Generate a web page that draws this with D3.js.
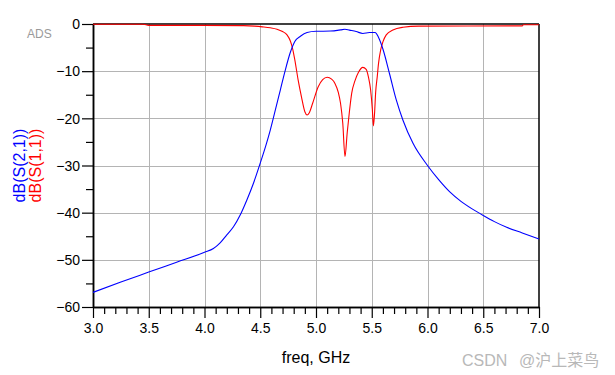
<!DOCTYPE html>
<html>
<head>
<meta charset="utf-8">
<script src="https://cdn.jsdelivr.net/npm/d3@7"></script>
<style>
  html, body { margin: 0; padding: 0; background: #fff; }
  svg { display: block; font-family: "Liberation Sans", Arial, sans-serif; }
</style>
</head>
<body>
<svg id="chart" width="615" height="375"></svg>
<script>
// ---- data ----
const freqS21 = [3.0, 3.25, 3.5, 3.75, 4.0, 4.08, 4.14, 4.2, 4.26, 4.32, 4.38, 4.44, 4.5, 4.55, 4.59, 4.64, 4.68, 4.72, 4.77, 4.81, 4.86, 4.92, 5.0, 5.13, 5.22, 5.26, 5.3, 5.36, 5.42, 5.48, 5.53, 5.56, 5.6, 5.66, 5.72, 5.78, 5.87, 6.0, 6.1, 6.2, 6.3, 6.4, 6.5, 6.6, 6.71, 6.85, 7.0];
const s21 = [-56.9, -54.7, -52.6, -50.5, -48.4, -47.6, -46.4, -44.7, -43.0, -40.5, -37.3, -33.7, -29.5, -25.8, -22.5, -17.8, -14.0, -10.2, -6.0, -3.7, -2.6, -1.8, -1.55, -1.5, -1.25, -1.1, -1.3, -1.6, -2.0, -1.8, -1.8, -2.8, -5.3, -10.6, -16.1, -20.4, -25.3, -30.0, -33.0, -35.6, -37.6, -39.2, -40.6, -41.9, -43.1, -44.3, -45.6];

const freqS11 = [3.0, 3.45, 3.5, 4.0, 4.35, 4.45, 4.52, 4.59, 4.65, 4.7, 4.74, 4.77, 4.79, 4.81, 4.84, 4.87, 4.9, 4.92, 4.94, 4.97, 5.02, 5.06, 5.1, 5.14, 5.17, 5.2, 5.22, 5.24, 5.26, 5.28, 5.3, 5.32, 5.35, 5.38, 5.42, 5.45, 5.47, 5.49, 5.505, 5.515, 5.525, 5.535, 5.55, 5.56, 5.58, 5.6, 5.63, 5.69, 5.78, 5.92, 6.85, 6.86, 7.0];
const s11 = [-0.05, -0.05, -0.3, -0.3, -0.35, -0.45, -0.6, -0.8, -1.1, -1.6, -2.3, -3.6, -5.2, -7.6, -11.9, -15.5, -18.6, -19.3, -18.8, -16.8, -13.3, -11.8, -11.3, -11.7, -12.6, -14.5, -16.8, -21.0, -28.1, -23.0, -18.5, -14.7, -12.0, -10.3, -9.2, -9.6, -11.2, -14.0, -18.0, -21.6, -19.0, -14.5, -11.0, -8.5, -5.5, -3.8, -2.3, -1.27, -0.7, -0.45, -0.4, -0.15, -0.15];

const xMajorTicks = [3.0, 3.5, 4.0, 4.5, 5.0, 5.5, 6.0, 6.5, 7.0];
const yMajorTicks = [0, -10, -20, -30, -40, -50, -60];
const seriesNames = ["dB(S(2,1))", "dB(S(1,1))"];
const seriesColors = ["#0000ff", "#ff0000"];
const xTitle = "freq, GHz";

// ---- layout ----
const W = 615, H = 375;
const m = { left: 93, right: 76, top: 24, bottom: 68 };
const svg = d3.select("#chart");

const x = d3.scaleLinear().domain([3, 7]).range([m.left, W - m.right]);
const y = d3.scaleLinear().domain([-60, 0]).range([H - m.bottom, m.top]);

const xMinor = d3.range(30, 71).map(d => d / 10).filter(d => !xMajorTicks.some(t => Math.abs(t - d) < 1e-6));
const yMinor = d3.range(-55, 0, 10);

// grid
const grid = svg.append("g").attr("stroke", "#b4b4b4").attr("stroke-width", 1).attr("shape-rendering", "crispEdges");
grid.selectAll("line.gx").data(xMajorTicks.slice(1, -1)).join("line")
  .attr("x1", d => Math.round(x(d)) + 0.5).attr("x2", d => Math.round(x(d)) + 0.5)
  .attr("y1", y(0)).attr("y2", y(-60));
grid.selectAll("line.gy").data(yMajorTicks.slice(1, -1)).join("line")
  .attr("x1", x(3)).attr("x2", x(7))
  .attr("y1", d => Math.round(y(d)) + 0.5).attr("y2", d => Math.round(y(d)) + 0.5);

// frame top/right
svg.append("line").attr("x1", x(3)).attr("x2", x(7)).attr("y1", y(0)).attr("y2", y(0))
  .attr("stroke", "#000").attr("stroke-width", 1.5);
svg.append("line").attr("x1", x(7)).attr("x2", x(7)).attr("y1", y(0)).attr("y2", y(-60))
  .attr("stroke", "#000").attr("stroke-width", 1.5);

// axes
const fmtX = d3.format(".1f");
const xAxis = svg.append("g").attr("transform", `translate(0,${y(-60)})`)
  .call(d3.axisBottom(x).tickValues(xMajorTicks).tickFormat(fmtX).tickSize(11).tickSizeOuter(0));
const xAxisMinor = svg.append("g").attr("transform", `translate(0,${y(-60)})`)
  .call(d3.axisBottom(x).tickValues(xMinor).tickFormat("").tickSize(7).tickSizeOuter(0));
const yAxis = svg.append("g").attr("transform", `translate(${x(3)},0)`)
  .call(d3.axisLeft(y).tickValues(yMajorTicks).tickFormat(d3.format("d")).tickSize(11).tickSizeOuter(0));
const yAxisMinor = svg.append("g").attr("transform", `translate(${x(3)},0)`)
  .call(d3.axisLeft(y).tickValues(yMinor).tickFormat("").tickSize(7).tickSizeOuter(0));

[xAxis, xAxisMinor, yAxis, yAxisMinor].forEach(g => {
  g.selectAll("path.domain").attr("stroke", "#000").attr("stroke-width", 1.5);
  g.selectAll(".tick line").attr("stroke", "#000").attr("stroke-width", 1.2);
});
xAxis.selectAll("text").attr("font-size", 14).attr("fill", "#000")
  .attr("font-family", "Liberation Sans, Arial, sans-serif").attr("y", 26).attr("dy", 0);
yAxis.selectAll("text").attr("font-size", 14).attr("fill", "#000")
  .attr("font-family", "Liberation Sans, Arial, sans-serif").attr("x", -13).attr("dy", "0.34em");

// curves
const line = d3.line().x(d => x(d[0])).y(d => y(d[1])).curve(d3.curveMonotoneX);
svg.append("path").datum(d3.zip(freqS11, s11)).attr("d", line)
  .attr("fill", "none").attr("stroke", seriesColors[1]).attr("stroke-width", 1.1);
svg.append("path").datum(d3.zip(freqS21, s21)).attr("d", line)
  .attr("fill", "none").attr("stroke", seriesColors[0]).attr("stroke-width", 1.1);

// titles
svg.append("text").attr("x", (x(3) + x(7)) / 2).attr("y", 363).attr("text-anchor", "middle")
  .attr("font-size", 16).attr("fill", "#000").text(xTitle);

const yMid = (y(0) + y(-60)) / 2;
svg.append("text").attr("transform", `translate(25,${yMid}) rotate(-90)`).attr("text-anchor", "middle")
  .attr("font-size", 16).attr("fill", seriesColors[0]).text(seriesNames[0]);
svg.append("text").attr("transform", `translate(41,${yMid}) rotate(-90)`).attr("text-anchor", "middle")
  .attr("font-size", 16).attr("fill", seriesColors[1]).text(seriesNames[1]);

// ADS label
svg.append("text").attr("x", 27).attr("y", 38).attr("font-size", 12).attr("fill", "#9a9a9a").text("ADS");

// watermark
const wm = svg.append("text").attr("y", 366).attr("fill", "#b8b8b8").attr("font-size", 16)
  .attr("font-family", "Liberation Sans, 'Noto Sans CJK SC', sans-serif");
wm.append("tspan").attr("x", 462).text("CSDN");
wm.append("tspan").attr("x", 519).text("@沪上菜鸟");
</script>
</body>
</html>
